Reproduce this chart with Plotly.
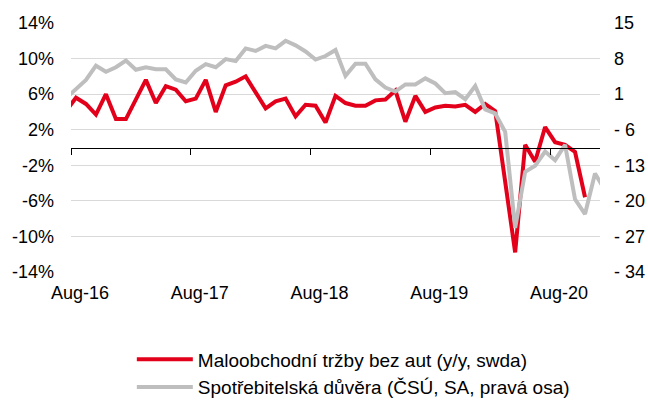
import plotly.graph_objects as go

# month index: 0 = Aug-16
tick_labels = ["Aug-16", "Aug-17", "Aug-18", "Aug-19", "Aug-20"]
tick_label_idx = [0, 12, 24, 36, 48]
tick_mark_idx = [-0.5, 11.5, 23.5, 35.5, 47.5]

retail_start = -1  # Jul-16
retail = [4.1, 5.6, 4.9, 3.7, 6.0, 3.2, 3.2, 5.3, 7.6, 5.0, 6.9, 6.5, 5.2,
          5.5, 7.6, 4.0, 7.0, 7.4, 8.0, 6.2, 4.4, 5.2, 5.5, 3.5, 4.8,
          4.7, 2.8, 5.8, 5.0, 4.7, 4.7, 5.3, 5.4, 6.4, 2.9, 5.8, 4.0,
          4.5, 4.7, 4.6, 4.8, 4.0, 4.9, 4.1, -3.9, -11.8, 0.3, -1.6, 2.3,
          0.6, 0.3, -0.5, -5.6]

conf_start = -1
confidence = [0.2, 2.0, 3.8, 6.6, 5.4, 6.3, 7.6, 5.8, 6.3, 5.9, 5.9, 3.9, 3.3,
              5.6, 6.9, 6.3, 7.9, 7.5, 10.0, 9.5, 10.5, 10.0, 11.5, 10.6, 9.4,
              7.8, 8.5, 9.7, 4.6, 7.0, 7.0, 3.9, 2.3, 1.5, 2.9, 2.9, 4.1,
              3.1, 1.2, 1.4, 0.0, 2.6, -2.0, -2.8, -6.4, -25.3, -14.3, -13.1, -10.3,
              -12.0, -9.0, -19.7, -22.6, -14.6, -17.9]

left_ticks = [14, 10, 6, 2, -2, -6, -10, -14]
left_text = ["14%", "10%", "6%", "2%", "-2%", "-6%", "-10%", "-14%"]
right_ticks = [15, 8, 1, -6, -13, -20, -27, -34]
right_text = ["15", "8", "1", "- 6", "- 13", "- 20", "- 27", "- 34"]

name_red = "Maloobchodní tržby bez aut (y/y, swda)"
name_gray = "Spotřebitelská důvěra (ČSÚ, SA, pravá osa)"

RED = "#E3001B"
GRAY = "#BEBEBE"
FONT = "Liberation Sans, Arial, sans-serif"

x_red = [retail_start + i for i in range(len(retail))]
x_gray = [conf_start + i for i in range(len(confidence))]

fig = go.Figure()
fig.add_trace(go.Scatter(x=x_red, y=retail, mode="lines", name=name_red,
                         line=dict(color=RED, width=4), xaxis="x", yaxis="y"))
fig.add_trace(go.Scatter(x=x_gray, y=confidence, mode="lines", name=name_gray,
                         line=dict(color=GRAY, width=4), xaxis="x2", yaxis="y2"))

xr = [-0.5, 52.5]
fig.update_layout(
    width=648, height=403,
    margin=dict(l=71, r=48, t=23, b=131, autoexpand=False),
    paper_bgcolor="white", plot_bgcolor="white",
    font=dict(family=FONT, size=18, color="#000000"),
    showlegend=True,
    legend=dict(orientation="v", x=0.115, xanchor="left", y=-0.275, yanchor="top",
                font=dict(size=19), itemwidth=56, tracegroupgap=0,
                bgcolor="rgba(0,0,0,0)"),
    xaxis=dict(range=xr, tickvals=tick_label_idx, ticktext=tick_labels,
               showgrid=False, showline=False, zeroline=False, ticks="",
               ticklabelshift=4, ticklabelstandoff=8, fixedrange=True),
    xaxis2=dict(range=xr, overlaying="x", anchor="free", position=0.5,
                side="bottom", showline=True, linecolor="black", linewidth=1.3,
                ticks="outside", tickvals=tick_mark_idx, ticklen=6,
                tickcolor="black", tickwidth=1, showticklabels=False,
                showgrid=False, zeroline=False),
    yaxis=dict(range=[-14, 14], tickvals=left_ticks, ticktext=left_text,
               showgrid=True, gridcolor="#D9D9D9", gridwidth=1,
               zeroline=False, showline=False, ticks="", ticklabelstandoff=16),
    yaxis2=dict(range=[-34, 15], tickvals=right_ticks, ticktext=right_text,
                overlaying="y", side="right", anchor="x2",
                showgrid=False, zeroline=False, showline=False, ticks="",
                ticklabelstandoff=13),
)

fig.write_html("out.html", config={"displayModeBar": False},
               post_script="document.body.style.margin='0';document.body.style.overflow='hidden';")
